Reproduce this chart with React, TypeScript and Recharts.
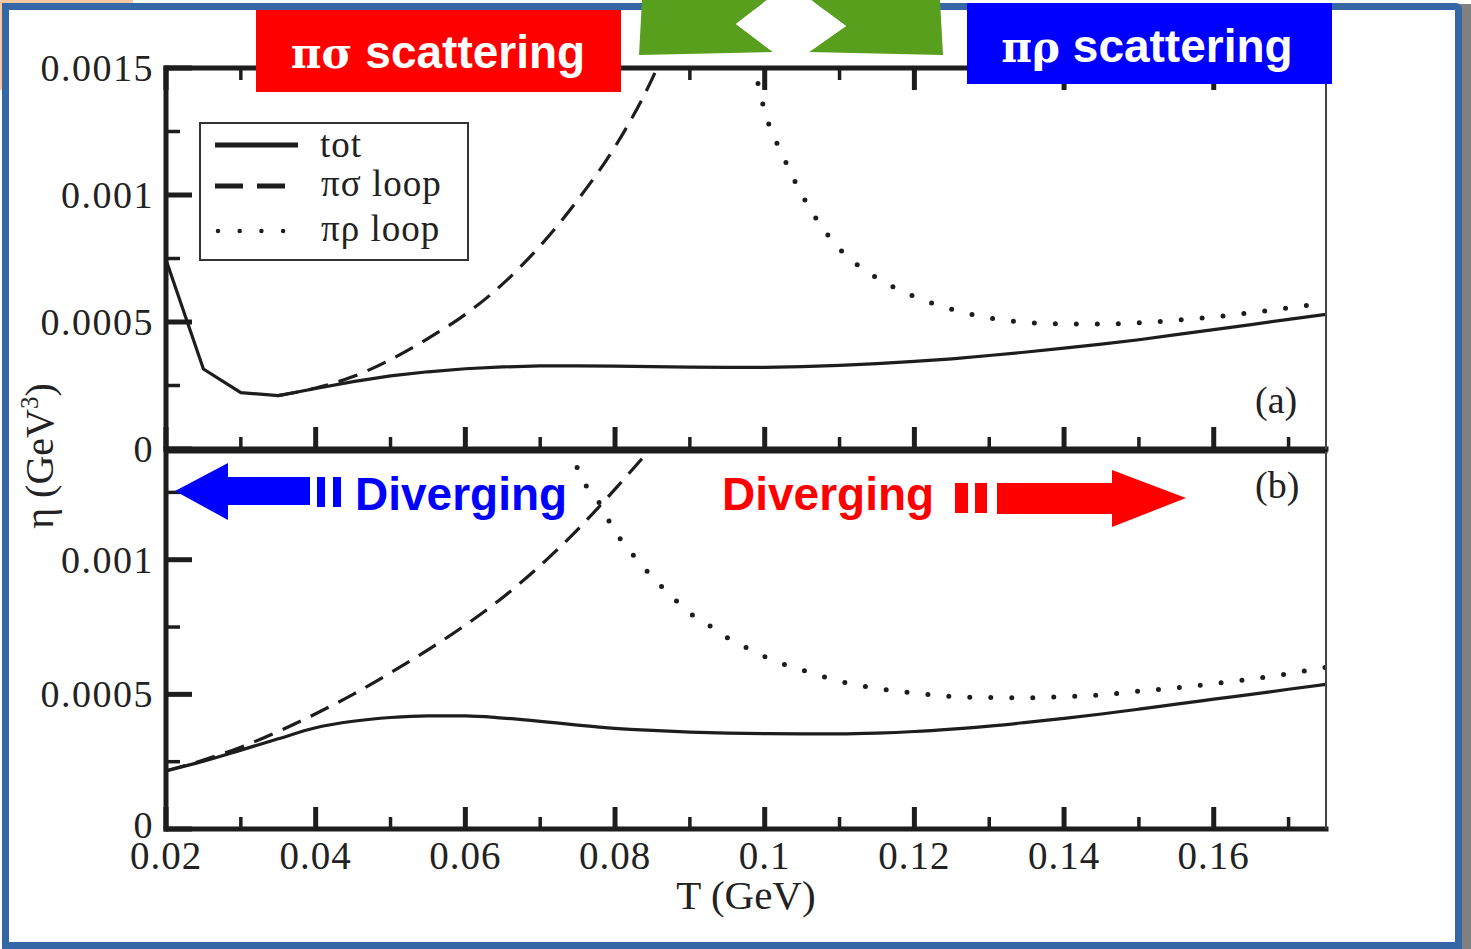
import { LineChart, Line, XAxis, YAxis } from 'recharts';

// Shear viscosity eta (GeV^3) vs temperature T (GeV), two panels.
const gridT = [
  0.02, 0.025, 0.03, 0.035, 0.04, 0.045, 0.05, 0.055, 0.06, 0.065, 0.07, 0.075, 0.08, 0.085, 0.09, 0.095,
  0.1, 0.105, 0.11, 0.115, 0.12, 0.125, 0.13, 0.135, 0.14, 0.145, 0.15, 0.155, 0.16, 0.165, 0.17, 0.175,
];

// panel (a)
const totA = [
  0.000745, 0.000315, 0.000222, 0.00021, 0.000238, 0.000265, 0.000288, 0.000304, 0.000316, 0.000323, 0.000327,
  0.000327, 0.000326, 0.000324, 0.000322, 0.000321, 0.000321, 0.000324, 0.000329, 0.000336, 0.000345, 0.000355,
  0.000368, 0.000382, 0.000397, 0.000413, 0.00043, 0.00045, 0.00047, 0.00049, 0.00051, 0.00053,
];
const sigmaA_T = [0.035, 0.04, 0.045, 0.05, 0.055, 0.06, 0.065, 0.07, 0.075, 0.08, 0.085, 0.0875];
const sigmaA = [0.00021, 0.00024, 0.000285, 0.000352, 0.000435, 0.00053, 0.00065, 0.0008, 0.00098, 0.00119, 0.00146, 0.00163];
const rhoA_T = [
  0.0985, 0.1, 0.1025, 0.105, 0.1075, 0.11, 0.1125, 0.115, 0.12, 0.125, 0.13, 0.135, 0.14, 0.145, 0.15, 0.155, 0.16,
  0.165, 0.17, 0.175,
];
const rhoA = [
  0.00152, 0.00133, 0.00115, 0.001, 0.00088, 0.000788, 0.000722, 0.000673, 0.0006, 0.00055, 0.000516, 0.000498,
  0.000493, 0.000492, 0.000497, 0.000507, 0.00052, 0.000537, 0.000556, 0.000576,
];

// panel (b)
const totB = [
  0.000216, 0.000252, 0.000293, 0.000335, 0.000376, 0.0004, 0.000414, 0.00042, 0.00042, 0.000412, 0.0004, 0.000386,
  0.000374, 0.000366, 0.00036, 0.000356, 0.000354, 0.000353, 0.000353, 0.000356, 0.000362, 0.000371, 0.000382,
  0.000396, 0.000411, 0.000427, 0.000445, 0.000464, 0.000482, 0.0005, 0.000519, 0.000537,
];
const sigmaB_T = [0.02, 0.025, 0.03, 0.035, 0.04, 0.045, 0.05, 0.055, 0.06, 0.065, 0.07, 0.075, 0.08, 0.085, 0.0875];
const sigmaB = [
  0.000216, 0.000256, 0.000304, 0.000362, 0.000428, 0.0005, 0.00058, 0.000665, 0.000757, 0.00086, 0.000978, 0.001112,
  0.001262, 0.00142, 0.0015,
];
const rhoB_T = [
  0.0745, 0.075, 0.0775, 0.08, 0.0825, 0.085, 0.0875, 0.09, 0.0925, 0.095, 0.0975, 0.1, 0.1025, 0.105, 0.1075, 0.11,
  0.115, 0.12, 0.125, 0.13, 0.135, 0.14, 0.145, 0.15, 0.155, 0.16, 0.165, 0.17, 0.175,
];
const rhoB = [
  0.00142, 0.001335, 0.00123, 0.001105, 0.001015, 0.000935, 0.000866, 0.000802, 0.000758, 0.00071, 0.000674, 0.00064,
  0.000612, 0.00059, 0.000568, 0.000549, 0.000522, 0.000505, 0.000492, 0.000488, 0.000487, 0.000492, 0.000498,
  0.000512, 0.000524, 0.00054, 0.000557, 0.000577, 0.0006,
];

const xTicks = [0.02, 0.03, 0.04, 0.05, 0.06, 0.07, 0.08, 0.09, 0.1, 0.11, 0.12, 0.13, 0.14, 0.15, 0.16, 0.17];
const xTickLabels = ['0.02', '0.04', '0.06', '0.08', '0.1', '0.12', '0.14', '0.16'];
const yTicksA = [0, 0.00025, 0.0005, 0.00075, 0.001, 0.00125, 0.0015];
const yTicksB = [0, 0.00025, 0.0005, 0.00075, 0.001, 0.00125];
const yTickLabels = ['0', '0.0005', '0.001', '0.0015'];

const W = 1471;
const H = 949;
const PLOT_L = 166;
const PLOT_R = 1326;
const INK = '#1d1d1d';
const TEXT = '#222';
const SERIF = '"Liberation Serif", "Times New Roman", serif';
const GREEK = '"DejaVu Serif", serif';
const SANS = '"Liberation Sans", Arial, sans-serif';

const pts = (ts: number[], vs: number[]) => ts.map((T, i) => ({ T, eta: vs[i] }));

const isMajorX = (v: number) => Math.round(v * 100) % 2 === 0;
const isMajorY = (v: number) => Math.round(v / 0.00025) % 2 === 0;

type TickProps = { x?: number; y?: number; payload?: { value: number } };

function XTick({ x = 0, y = 0, payload, dir, labelled }: TickProps & { dir: number; labelled?: boolean }) {
  const v = payload?.value ?? 0;
  const major = isMajorX(v);
  const len = major ? 22 : 12;
  return (
    <g>
      <line x1={x} x2={x} y1={y} y2={y + dir * len} stroke={INK} strokeWidth={major ? 5 : 3.5} />
      {labelled && major && (
        <text x={x} y={y + 40} textAnchor="middle" fontFamily={SERIF} fontSize={39} fill={TEXT} letterSpacing={1}>
          {xTickLabels[Math.round((v - 0.02) / 0.02)]}
        </text>
      )}
    </g>
  );
}

function YTick({ x = 0, y = 0, payload, zeroLift = 0 }: TickProps & { zeroLift?: number }) {
  const v = payload?.value ?? 0;
  const major = isMajorY(v);
  return (
    <g>
      <line x1={x} x2={x + (major ? 26 : 14)} y1={y} y2={y} stroke={INK} strokeWidth={major ? 5 : 3.5} />
      {major && (
        <text
          x={x - 12}
          y={y + 13 - (v === 0 ? zeroLift : 0)}
          textAnchor="end"
          fontFamily={SERIF}
          fontSize={38}
          fill={TEXT}
          letterSpacing={1.5}
        >
          {yTickLabels[Math.round(v / 0.0005)]}
        </text>
      )}
    </g>
  );
}

type PanelProps = {
  top: number;
  bottom: number;
  yMax: number;
  yTicks: number[];
  tot: { T: number; eta: number }[];
  sigma: { T: number; eta: number }[];
  rho: { T: number; eta: number }[];
  totCurve: 'linear' | 'monotone';
  topTicks: boolean;
  labelled: boolean;
};

// each axis takes 1px, so the margins stop 1px short of the plot edges
function Panel({ top, bottom, yMax, yTicks, tot, sigma, rho, totCurve, topTicks, labelled }: PanelProps) {
  const frame = { stroke: INK, strokeWidth: 5, strokeLinecap: 'square' as const };
  return (
    <div style={{ position: 'absolute', left: 0, top: 0 }}>
      <LineChart
        width={W}
        height={H}
        margin={{ top: top - 1, bottom: H - bottom - 1, left: PLOT_L - 1, right: W - PLOT_R - 1 }}
      >
        <XAxis
          dataKey="T"
          type="number"
          domain={[0.02, 0.175]}
          allowDataOverflow
          ticks={xTicks}
          interval={0}
          height={1}
          tickSize={0}
          tickMargin={0}
          tickLine={false}
          axisLine={frame}
          tick={(p: TickProps) => <XTick {...p} dir={-1} labelled={labelled} />}
        />
        <XAxis
          xAxisId="top"
          orientation="top"
          dataKey="T"
          type="number"
          domain={[0.02, 0.175]}
          allowDataOverflow
          ticks={xTicks}
          interval={0}
          height={1}
          tickSize={0}
          tickMargin={0}
          tickLine={false}
          axisLine={{ ...frame, strokeWidth: topTicks ? 5 : 3 }}
          tick={topTicks ? (p: TickProps) => <XTick {...p} dir={1} /> : false}
        />
        <YAxis
          type="number"
          domain={[0, yMax]}
          allowDataOverflow
          ticks={yTicks}
          interval={0}
          width={1}
          tickSize={0}
          tickMargin={0}
          tickLine={false}
          axisLine={frame}
          tick={(p: TickProps) => <YTick {...p} zeroLift={labelled ? 4 : 0} />}
        />
        <YAxis
          yAxisId="r"
          orientation="right"
          type="number"
          domain={[0, yMax]}
          width={1}
          tick={false}
          tickLine={false}
          axisLine={{ stroke: '#444', strokeWidth: 2 }}
        />
        <Line data={tot} dataKey="eta" type={totCurve} stroke={INK} strokeWidth={3.2} dot={false} isAnimationActive={false} />
        <Line
          data={sigma}
          dataKey="eta"
          type="monotone"
          stroke={INK}
          strokeWidth={3.2}
          strokeDasharray="20 11"
          dot={false}
          isAnimationActive={false}
        />
        <Line
          data={rho}
          dataKey="eta"
          type="monotone"
          stroke={INK}
          strokeWidth={5}
          strokeDasharray="0 21"
          strokeLinecap="round"
          dot={false}
          isAnimationActive={false}
        />
      </LineChart>
    </div>
  );
}

export default function App() {
  return (
    <div style={{ position: 'absolute', left: 0, top: 0, width: W, height: H, overflow: 'hidden', background: '#fff' }}>
      {/* slide surroundings */}
      <div style={{ position: 'absolute', left: 0, top: 0, width: 133, height: 90, background: '#f9c8a0' }} />
      <div style={{ position: 'absolute', left: 1458, top: 4, width: 13, height: H, background: '#808080' }} />
      <div
        style={{
          position: 'absolute',
          left: 2,
          top: 3,
          width: 1460,
          height: 946,
          boxSizing: 'border-box',
          border: '7.5px solid #3566a6',
          borderTopRightRadius: 6,
          background: '#fff',
        }}
      />

      <Panel
        top={68}
        bottom={449}
        yMax={0.0015}
        yTicks={yTicksA}
        tot={pts(gridT, totA)}
        sigma={pts(sigmaA_T, sigmaA)}
        rho={pts(rhoA_T, rhoA)}
        totCurve="linear"
        topTicks
        labelled={false}
      />
      <Panel
        top={452}
        bottom={829}
        yMax={0.0014}
        yTicks={yTicksB}
        tot={pts(gridT, totB)}
        sigma={pts(sigmaB_T, sigmaB)}
        rho={pts(rhoB_T, rhoB)}
        totCurve="monotone"
        topTicks={false}
        labelled
      />

      <svg width={W} height={H} style={{ position: 'absolute', left: 0, top: 0, pointerEvents: 'none' }}>
        {/* legend */}
        <rect x={200} y={123} width={268} height={137} fill="#fff" stroke="#333" strokeWidth={2} />
        <line x1={215} x2={298} y1={145} y2={145} stroke={INK} strokeWidth={5} />
        <line x1={215} x2={286} y1={186} y2={186} stroke={INK} strokeWidth={5} strokeDasharray="28 14" />
        <line x1={218} x2={286} y1={231} y2={231} stroke={INK} strokeWidth={4.5} strokeDasharray="0 21.7" strokeLinecap="round" />
        <g fontFamily={SERIF} fontSize={37} fill={TEXT} letterSpacing={1}>
          <text x={320} y={157}>tot</text>
          <text x={321} y={196}>πσ loop</text>
          <text x={321} y={241}>πρ loop</text>
        </g>

        {/* panel tags and axis titles */}
        <g fontFamily={SERIF} fontSize={38} fill={TEXT}>
          <text x={1255} y={413}>(a)</text>
          <text x={1255} y={498}>(b)</text>
        </g>
        <text x={746} y={909} textAnchor="middle" fontFamily={SERIF} fontSize={41} fill={TEXT}>
          T (GeV)
        </text>
        <text transform="translate(53,456) rotate(-90)" textAnchor="middle" fontFamily={SERIF} fontSize={40} fill={TEXT}>
          η (GeV
          <tspan dy={-15} fontSize={25}>
            3
          </tspan>
          <tspan dy={15}>)</tspan>
        </text>

        {/* scattering channel boxes */}
        <rect x={256} y={10} width={365} height={82} fill="#ff0000" />
        <text x={438} y={68} textAnchor="middle" fill="#fff" fontFamily={SANS} fontWeight="bold" fontSize={46}>
          <tspan fontFamily={GREEK} fontSize={42}>πσ</tspan> scattering
        </text>
        <rect x={967} y={3} width={365} height={81} fill="#0000ff" />
        <text x={1147} y={62} textAnchor="middle" fill="#fff" fontFamily={SANS} fontWeight="bold" fontSize={46}>
          <tspan fontFamily={GREEK} fontSize={42}>πρ</tspan> scattering
        </text>
        <polygon points="642,0 767,0 736,24 773,52 639,55" fill="#589f1e" />
        <polygon points="811,0 940,0 943,55 809,52 846,26" fill="#589f1e" />
        <polygon points="767,0 811,0 846,26 809,52 773,52 736,24" fill="#fff" />

        {/* diverging markers */}
        <polygon points="175,491 228,463 228,477 310,477 310,505 228,505 228,520" fill="#0000ff" />
        <rect x={317} y={477} width={8} height={30} fill="#0000ff" />
        <rect x={333} y={477} width={8} height={30} fill="#0000ff" />
        <text x={355} y={510} fill="#0000ff" fontFamily={SANS} fontWeight="bold" fontSize={46}>
          Diverging
        </text>
        <text x={722} y={510} fill="#ff0000" fontFamily={SANS} fontWeight="bold" fontSize={46}>
          Diverging
        </text>
        <rect x={955} y={483} width={13} height={30} fill="#ff0000" />
        <rect x={975} y={483} width={12} height={30} fill="#ff0000" />
        <polygon points="997,483 1112,483 1112,470 1186,498 1112,527 1112,514 997,514" fill="#ff0000" />
      </svg>
    </div>
  );
}
